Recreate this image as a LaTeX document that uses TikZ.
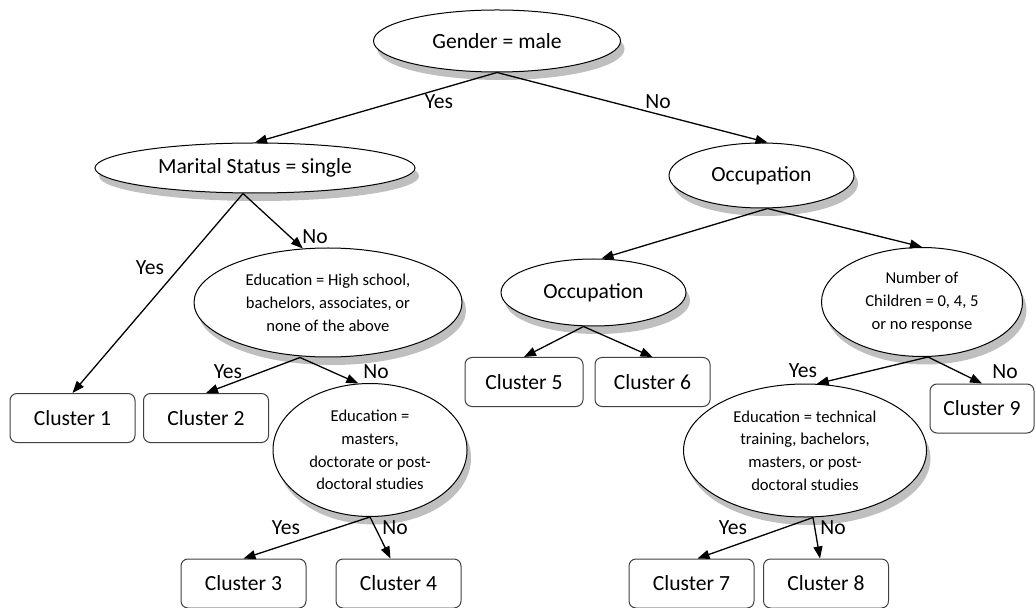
\documentclass[tikz,border=0pt]{standalone}
\usepackage{fontspec}
\setmainfont{Carlito}
\usetikzlibrary{shapes.geometric,shadows,arrows.meta}

\tikzset{
  test/.style={ellipse, draw=black, fill=white, line width=0.5pt, inner sep=0pt, align=center,
    font=\fontsize{10.8}{13}\selectfont,
    drop shadow={shadow xshift=2pt, shadow yshift=-4pt, fill=black!25, opacity=1}},
  small/.style={font=\fontsize{8.3}{11.4}\selectfont},
  clus/.style={rectangle, rounded corners=3.5pt, draw=black!75, fill=white, line width=0.5pt,
    minimum width=62.5pt, minimum height=24.5pt, inner sep=0pt, font=\fontsize{10.8}{13}\selectfont},
  lbl/.style={inner sep=0pt, font=\fontsize{10.8}{13}\selectfont},
  arr/.style={line width=0.65pt, -{Triangle[length=6pt, width=4.5pt]}}
}

\begin{document}
\begin{tikzpicture}[x=0.5pt, y=-0.5pt]
                    \useasboundingbox (0,0) rectangle (1036,608);
                    \node[test, minimum width=123.5pt, minimum height=31pt] (g) at (497,41) {Gender = male};
                    \node[test, minimum width=160pt, minimum height=25pt] (m) at (255,168) {Marital Status = single};
                    \node[test, minimum width=92.5pt, minimum height=32.5pt] (o1) at (761.5,175.5) {Occupation};
                    \node[test, small, minimum width=134pt, minimum height=54.5pt] (e1) at (328,302.5) {Education = High school,\\bachelors, associates, or\\none of the above};
                    \node[test, minimum width=92.5pt, minimum height=33.5pt] (o2) at (593.5,292.5) {Occupation};
                    \node[test, small, minimum width=100.5pt, minimum height=54.5pt] (nc) at (922,302) {Number of\\Children = 0, 4, 5\\or no response};
                    \node[test, small, minimum width=97pt, minimum height=66.5pt] (e2) at (370,450) {Education =\\masters,\\doctorate or post-\\doctoral studies};
                    \node[test, small, minimum width=121.5pt, minimum height=66.5pt] (e3) at (805,450.5) {Education = technical\\training, bachelors,\\masters, or post-\\doctoral studies};
                    \node[clus] (c1) at (72.5,418) {Cluster 1};
                    \node[clus] (c2) at (206,418) {Cluster 2};
                    \node[clus] (c3) at (243.5,583.5) {Cluster 3};
                    \node[clus] (c4) at (398.5,583.5) {Cluster 4};
                    \node[clus, minimum width=59pt] (c5) at (524,382) {Cluster 5};
                    \node[clus, minimum width=57.5pt] (c6) at (652.5,382) {Cluster 6};
                    \node[clus] (c7) at (691.5,583.5) {Cluster 7};
                    \node[clus] (c8) at (826,583.5) {Cluster 8};
                    \node[clus, minimum width=52pt] (c9) at (982,408.5) {Cluster 9};
                    \draw[arr] (g.south) -- (m.north);
                    \draw[arr] (g.south) -- ([xshift=3pt]o1.north);
                    \draw[arr] ([xshift=-6pt]m.south) -- (c1.north);
                    \draw[arr] ([xshift=-6pt]m.south) -- (e1.115);
                    \draw[arr] ([xshift=-14pt]e1.south) -- (c2.north);
                    \draw[arr] ([xshift=-14pt]e1.south) -- (e2.100);
                    \draw[arr] (e2.south) -- (c3.north);
                    \draw[arr] (e2.south) -- ([xshift=-4pt]c4.north);
                    \draw[arr] ([xshift=3pt]o1.south) -- ([xshift=4pt]o2.north);
                    \draw[arr] ([xshift=3pt]o1.south) -- (nc.north);
                    \draw[arr] ([xshift=-5pt]o2.south) -- (c5.north);
                    \draw[arr] ([xshift=-5pt]o2.south) -- (c6.north);
                    \draw[arr] ([xshift=3pt]nc.south) -- (e3.80);
                    \draw[arr] ([xshift=3pt]nc.south) -- (c9.north);
                    \draw[arr] ([xshift=4pt]e3.south) -- ([xshift=3pt]c7.north);
                    \draw[arr] ([xshift=4pt]e3.south) -- ([xshift=-3pt]c8.north);
                    \node[lbl] (l1) at (439,102) {Yes};
                    \node[lbl] (l2) at (658,102) {No};
                    \node[lbl] (l3) at (150,268) {Yes};
                    \node[lbl] (l4) at (315,237) {No};
                    \node[lbl] (l5) at (228,372) {Yes};
                    \node[lbl] (l6) at (376,372) {No};
                    \node[lbl] (l7) at (286,528) {Yes};
                    \node[lbl] (l8) at (395,528) {No};
                    \node[lbl] (l9) at (803,371) {Yes};
                    \node[lbl] (l10) at (1005,372) {No};
                    \node[lbl] (l11) at (733,528) {Yes};
                    \node[lbl] (l12) at (833,528) {No};
                \end{tikzpicture}
\end{document}
